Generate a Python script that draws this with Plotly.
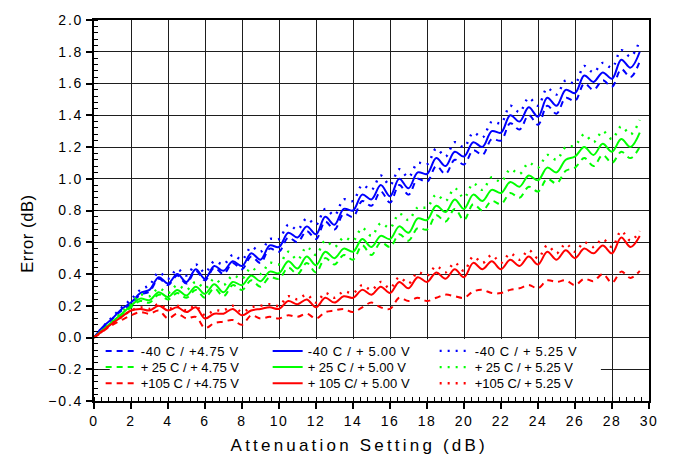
import plotly.graph_objects as go

atten_db = [0.0, 0.5, 1.0, 1.5, 2.0, 2.5, 3.0, 3.5, 4.0, 4.5, 5.0, 5.5, 6.0, 6.5, 7.0, 7.5,
            8.0, 8.5, 9.0, 9.5, 10.0, 10.5, 11.0, 11.5, 12.0, 12.5, 13.0, 13.5, 14.0, 14.5,
            15.0, 15.5, 16.0, 16.5, 17.0, 17.5, 18.0, 18.5, 19.0, 19.5, 20.0, 20.5, 21.0, 21.5,
            22.0, 22.5, 23.0, 23.5, 24.0, 24.5, 25.0, 25.5, 26.0, 26.5, 27.0, 27.5, 28.0, 28.5,
            29.0, 29.5]

m40_475 = [0.00, 0.06, 0.12, 0.17, 0.21, 0.27, 0.29, 0.37, 0.33, 0.39, 0.34, 0.42, 0.36, 0.44, 0.40, 0.47,
           0.43, 0.51, 0.47, 0.56, 0.54, 0.63, 0.60, 0.67, 0.62, 0.73, 0.68, 0.78, 0.76, 0.86,
           0.83, 0.92, 0.85, 0.96, 0.90, 1.00, 0.98, 1.08, 1.03, 1.12, 1.09, 1.18, 1.15, 1.25,
           1.24, 1.35, 1.31, 1.40, 1.34, 1.46, 1.41, 1.51, 1.49, 1.60, 1.56, 1.62, 1.58, 1.69,
           1.64, 1.74]
m40_500 = [0.00, 0.07, 0.12, 0.18, 0.22, 0.28, 0.30, 0.38, 0.34, 0.40, 0.35, 0.43, 0.37, 0.45, 0.42, 0.48,
           0.45, 0.53, 0.49, 0.58, 0.57, 0.66, 0.63, 0.70, 0.65, 0.76, 0.71, 0.81, 0.80, 0.90,
           0.87, 0.96, 0.89, 1.00, 0.94, 1.04, 1.03, 1.13, 1.08, 1.17, 1.14, 1.23, 1.20, 1.30,
           1.29, 1.40, 1.36, 1.45, 1.39, 1.51, 1.46, 1.56, 1.54, 1.65, 1.61, 1.67, 1.63, 1.75,
           1.70, 1.80]
m40_525 = [0.00, 0.07, 0.13, 0.19, 0.24, 0.30, 0.33, 0.41, 0.37, 0.43, 0.39, 0.46, 0.41, 0.48, 0.46, 0.52,
           0.49, 0.57, 0.54, 0.62, 0.62, 0.71, 0.68, 0.75, 0.71, 0.81, 0.77, 0.87, 0.86, 0.96,
           0.93, 1.02, 0.96, 1.06, 1.01, 1.10, 1.09, 1.19, 1.14, 1.23, 1.20, 1.29, 1.26, 1.36,
           1.35, 1.46, 1.42, 1.51, 1.46, 1.57, 1.53, 1.62, 1.60, 1.71, 1.67, 1.73, 1.70, 1.81,
           1.77, 1.87]

p25_475 = [0.00, 0.05, 0.09, 0.14, 0.19, 0.23, 0.22, 0.27, 0.24, 0.28, 0.25, 0.30, 0.25, 0.31, 0.26, 0.33,
           0.30, 0.36, 0.32, 0.38, 0.37, 0.44, 0.40, 0.47, 0.41, 0.50, 0.46, 0.52, 0.49, 0.58,
           0.52, 0.60, 0.57, 0.65, 0.61, 0.69, 0.68, 0.77, 0.73, 0.81, 0.74, 0.84, 0.80, 0.86,
           0.84, 0.91, 0.88, 0.95, 0.92, 1.00, 0.97, 1.05, 1.07, 1.13, 1.08, 1.15, 1.10, 1.17,
           1.13, 1.20]
p25_500 = [0.00, 0.05, 0.10, 0.15, 0.20, 0.245, 0.235, 0.285, 0.255, 0.30, 0.265, 0.32, 0.275, 0.335, 0.285, 0.35,
           0.33, 0.39, 0.355, 0.415, 0.405, 0.48, 0.435, 0.51, 0.455, 0.54, 0.50, 0.56, 0.54, 0.62,
           0.57, 0.64, 0.62, 0.70, 0.66, 0.75, 0.74, 0.83, 0.79, 0.87, 0.81, 0.90, 0.86, 0.93,
           0.91, 0.98, 0.95, 1.02, 0.99, 1.07, 1.04, 1.12, 1.14, 1.20, 1.15, 1.22, 1.17, 1.25,
           1.20, 1.29]
p25_525 = [0.00, 0.05, 0.10, 0.16, 0.21, 0.27, 0.26, 0.31, 0.28, 0.33, 0.30, 0.35, 0.31, 0.37, 0.33, 0.39,
           0.37, 0.44, 0.40, 0.47, 0.46, 0.54, 0.49, 0.57, 0.52, 0.61, 0.57, 0.63, 0.61, 0.69,
           0.64, 0.72, 0.69, 0.78, 0.74, 0.82, 0.82, 0.90, 0.86, 0.94, 0.88, 0.97, 0.93, 1.01,
           0.98, 1.06, 1.03, 1.10, 1.07, 1.15, 1.12, 1.20, 1.21, 1.28, 1.23, 1.30, 1.25, 1.33,
           1.28, 1.37]

p105_475 = [0.00, 0.04, 0.08, 0.11, 0.14, 0.16, 0.15, 0.17, 0.12, 0.15, 0.12, 0.13, 0.06, 0.09, 0.10, 0.11,
            0.08, 0.14, 0.12, 0.13, 0.12, 0.14, 0.13, 0.15, 0.12, 0.16, 0.17, 0.18, 0.16, 0.19,
            0.22, 0.19, 0.18, 0.25, 0.23, 0.25, 0.23, 0.25, 0.27, 0.26, 0.25, 0.29, 0.30, 0.28,
            0.28, 0.30, 0.31, 0.33, 0.31, 0.36, 0.35, 0.36, 0.33, 0.37, 0.355, 0.40, 0.345, 0.415,
            0.375, 0.42]
p105_500 = [0.00, 0.045, 0.09, 0.13, 0.17, 0.18, 0.17, 0.20, 0.17, 0.19, 0.16, 0.19, 0.12, 0.15, 0.15, 0.18,
            0.14, 0.17, 0.18, 0.19, 0.18, 0.23, 0.21, 0.24, 0.19, 0.25, 0.22, 0.26, 0.25, 0.30,
            0.27, 0.32, 0.28, 0.35, 0.31, 0.38, 0.35, 0.41, 0.37, 0.43, 0.38, 0.47, 0.43, 0.48,
            0.43, 0.49, 0.45, 0.51, 0.46, 0.54, 0.49, 0.55, 0.50, 0.56, 0.53, 0.58, 0.53, 0.63,
            0.57, 0.64]
p105_525 = [0.00, 0.045, 0.09, 0.13, 0.17, 0.19, 0.18, 0.21, 0.18, 0.20, 0.17, 0.20, 0.14, 0.17, 0.17, 0.20,
            0.16, 0.19, 0.20, 0.21, 0.20, 0.26, 0.24, 0.27, 0.22, 0.28, 0.25, 0.29, 0.28, 0.33,
            0.30, 0.35, 0.31, 0.38, 0.34, 0.41, 0.39, 0.45, 0.41, 0.47, 0.42, 0.51, 0.47, 0.52,
            0.47, 0.53, 0.49, 0.55, 0.50, 0.58, 0.53, 0.59, 0.54, 0.60, 0.57, 0.62, 0.57, 0.67,
            0.61, 0.67]

series_names = ["-40 C / +4.75 V", "-40 C / + 5.00 V", "-40 C / + 5.25 V",
                "+ 25 C / + 4.75 V", "+ 25 C / + 5.00 V", "+ 25 C / + 5.25 V",
                "+105 C / +4.75 V", "+ 105 C/ + 5.00 V", "+105 C/ + 5.25 V"]
series_values = [m40_475, m40_500, m40_525, p25_475, p25_500, p25_525,
                 p105_475, p105_500, p105_525]
colors = ["#0000FF"] * 3 + ["#00FF00"] * 3 + ["#FF0000"] * 3
dashes = ["6px,5px", "solid", "2px,6px"] * 3
widths = [2, 2, 2.4] * 3
legend_rows = ["legend", "legend", "legend", "legend2", "legend2", "legend2",
               "legend3", "legend3", "legend3"]

x_ticks = [0, 2, 4, 6, 8, 10, 12, 14, 16, 18, 20, 22, 24, 26, 28, 30]
y_ticks = [-0.4, -0.2, 0.0, 0.2, 0.4, 0.6, 0.8, 1.0, 1.2, 1.4, 1.6, 1.8, 2.0]

x_title = "Attenuation Setting (dB)"
y_title = "Error (dB)"

FONT = "Liberation Sans, Arial, sans-serif"

fig = go.Figure()
for name, vals, c, d, w, lg in zip(series_names, series_values, colors, dashes, widths, legend_rows):
    fig.add_trace(go.Scatter(
        x=atten_db, y=vals, name=name, mode="lines", legend=lg,
        line=dict(color=c, dash=d, width=w, shape="spline", smoothing=1.0),
    ))

# white panel behind the legend (hides grid lines there)
fig.add_shape(type="rect", xref="x", yref="y", x0=0.85, x1=27.4, y0=-0.4, y1=-0.01,
              fillcolor="white", line_width=0, layer="between")

axis_common = dict(
    showline=True, linecolor="black", linewidth=2, mirror=True,
    showgrid=True, gridcolor="#1e1e1e", gridwidth=1,
    zeroline=False, ticks="outside", ticklen=6, tickwidth=1.5, tickcolor="black",
    tickfont=dict(family=FONT, size=14, color="black"),
)

fig.update_xaxes(
    range=[0, 30], tickvals=x_ticks,
    minor=dict(dtick=0.4, ticks="inside", ticklen=4, tickwidth=1.2, tickcolor="black", showgrid=False),
    **axis_common,
)
fig.update_yaxes(
    range=[-0.4, 2.0], tickvals=y_ticks, tickformat=".1f",
    minor=dict(dtick=0.04, ticks="inside", ticklen=4, tickwidth=1.2, tickcolor="black", showgrid=False),
    **axis_common,
)

fig.add_annotation(text=x_title, xref="paper", yref="paper", x=0.479, y=-0.118,
                   xanchor="center", yanchor="middle", showarrow=False,
                   font=dict(family=FONT, size=17, color="black"))
fig.add_annotation(text=y_title, xref="paper", yref="paper", x=-0.12, y=0.44,
                   xanchor="center", yanchor="middle", showarrow=False, textangle=-90,
                   font=dict(family=FONT, size=16.5, color="black"))

leg_common = dict(orientation="h", x=0.012, xanchor="left", yanchor="middle",
                  bgcolor="rgba(0,0,0,0)", borderwidth=0, entrywidth=122, itemwidth=30,
                  font=dict(family=FONT, size=13, color="black"))

fig.update_layout(
    width=674, height=463,
    margin=dict(l=94, r=25, t=13, b=62),
    plot_bgcolor="white", paper_bgcolor="white",
    showlegend=True,
    legend=dict(y=0.1314, **leg_common),
    legend2=dict(y=0.0889, **leg_common),
    legend3=dict(y=0.0464, **leg_common),
)

post = """
var gd = document.getElementById('{plot_id}');
function sp(sel, v) { gd.querySelectorAll(sel).forEach(function (t) { t.style.letterSpacing = v; }); }
sp('.xtick text', '1.5px');
sp('.ytick text', '1.8px');
sp('.legendtext', '0.7px');
gd.querySelectorAll('.annotation-text').forEach(function (t) {
  if (t.textContent.indexOf('Attenuation') >= 0) { t.style.letterSpacing = '3.2px'; }
  else { t.style.letterSpacing = '0.6px'; }
});
"""

fig.write_html("out.html", post_script=post)
